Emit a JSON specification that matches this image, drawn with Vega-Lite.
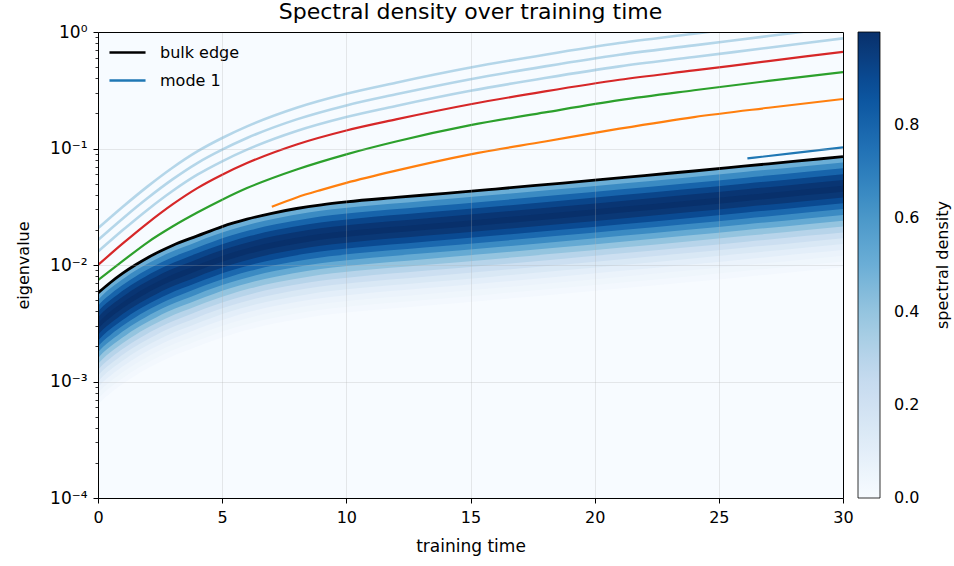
{
"$schema":"https://vega.github.io/schema/vega-lite/v6.json",
"width":745,"height":466,
"autosize":{"type":"none"},
"padding":{"left":98,"top":32,"right":111,"bottom":68},
"background":"white",
"title":{"text":"Spectral density over training time","fontSize":22,"font":"DejaVu Sans","fontWeight":"normal","color":"black","offset":-1},
"config":{"font":"DejaVu Sans","view":{"fill":"#f7fbff","stroke":null},
 "axis":{"labelFont":"DejaVu Sans","titleFont":"DejaVu Sans","labelColor":"black","titleColor":"black","titleFontWeight":"normal"},
 "legend":{"labelFont":"DejaVu Sans","titleFont":"DejaVu Sans","labelColor":"black","titleColor":"black"}},
"datasets":{
"levels":[{"j":1,"d":0.5},{"j":2,"d":0.65},{"j":3,"d":0.8},{"j":4,"d":0.92},{"j":5,"d":0.98},{"j":6,"d":1},{"j":7,"d":0.97},{"j":8,"d":0.9},{"j":9,"d":0.78},{"j":10,"d":0.65},{"j":11,"d":0.52},{"j":12,"d":0.4},{"j":13,"d":0.3},{"j":14,"d":0.22},{"j":15,"d":0.15},{"j":16,"d":0.1},{"j":17,"d":0.06},{"j":18,"d":0.04},{"j":19,"d":0.02},{"j":20,"d":0}],
"bins":[{"b":16,"e":0.00063096},{"b":17,"e":0.00070795},{"b":18,"e":0.00079433},{"b":19,"e":0.00089125},{"b":20,"e":0.001},{"b":21,"e":0.001122},{"b":22,"e":0.0012589},{"b":23,"e":0.0014125},{"b":24,"e":0.0015849},{"b":25,"e":0.0017783},{"b":26,"e":0.0019953},{"b":27,"e":0.0022387},{"b":28,"e":0.0025119},{"b":29,"e":0.0028184},{"b":30,"e":0.0031623},{"b":31,"e":0.0035481},{"b":32,"e":0.0039811},{"b":33,"e":0.0044668},{"b":34,"e":0.0050119},{"b":35,"e":0.0056234},{"b":36,"e":0.0063096},{"b":37,"e":0.0070795},{"b":38,"e":0.0079433},{"b":39,"e":0.0089125},{"b":40,"e":0.01},{"b":41,"e":0.01122},{"b":42,"e":0.012589},{"b":43,"e":0.014125},{"b":44,"e":0.015849},{"b":45,"e":0.017783},{"b":46,"e":0.019953},{"b":47,"e":0.022387},{"b":48,"e":0.025119},{"b":49,"e":0.028184},{"b":50,"e":0.031623},{"b":51,"e":0.035481},{"b":52,"e":0.039811},{"b":53,"e":0.044668},{"b":54,"e":0.050119},{"b":55,"e":0.056234},{"b":56,"e":0.063096},{"b":57,"e":0.070795},{"b":58,"e":0.079433},{"b":59,"e":0.089125}],
"band":[
{"j":1,"t":0,"b":35},{"j":1,"t":0.22,"b":36},{"j":1,"t":0.5,"b":37},{"j":1,"t":0.81,"b":38},{"j":1,"t":1.14,"b":39},{"j":1,"t":1.5,"b":40},{"j":1,"t":1.9,"b":41},{"j":1,"t":2.34,"b":42},{"j":1,"t":2.82,"b":43},{"j":1,"t":3.39,"b":44},{"j":1,"t":4,"b":45},{"j":1,"t":4.625,"b":46},{"j":1,"t":5.32,"b":47},{"j":1,"t":6.14,"b":48},{"j":1,"t":7.15,"b":49},{"j":1,"t":8.47,"b":50},{"j":1,"t":10.42,"b":51},{"j":1,"t":13.14,"b":52},{"j":1,"t":15.89,"b":53},{"j":1,"t":18.53,"b":54},{"j":1,"t":21.1,"b":55},{"j":1,"t":23.64,"b":56},{"j":1,"t":26.1,"b":57},{"j":1,"t":28.54,"b":58},{"j":1,"t":31,"b":59},
{"j":2,"t":0,"b":34},{"j":2,"t":0.22,"b":35},{"j":2,"t":0.5,"b":36},{"j":2,"t":0.81,"b":37},{"j":2,"t":1.14,"b":38},{"j":2,"t":1.5,"b":39},{"j":2,"t":1.9,"b":40},{"j":2,"t":2.34,"b":41},{"j":2,"t":2.82,"b":42},{"j":2,"t":3.39,"b":43},{"j":2,"t":4,"b":44},{"j":2,"t":4.625,"b":45},{"j":2,"t":5.32,"b":46},{"j":2,"t":6.14,"b":47},{"j":2,"t":7.15,"b":48},{"j":2,"t":8.47,"b":49},{"j":2,"t":10.42,"b":50},{"j":2,"t":13.14,"b":51},{"j":2,"t":15.89,"b":52},{"j":2,"t":18.53,"b":53},{"j":2,"t":21.1,"b":54},{"j":2,"t":23.64,"b":55},{"j":2,"t":26.1,"b":56},{"j":2,"t":28.54,"b":57},{"j":2,"t":31,"b":58},
{"j":3,"t":0,"b":33},{"j":3,"t":0.22,"b":34},{"j":3,"t":0.5,"b":35},{"j":3,"t":0.81,"b":36},{"j":3,"t":1.14,"b":37},{"j":3,"t":1.5,"b":38},{"j":3,"t":1.9,"b":39},{"j":3,"t":2.34,"b":40},{"j":3,"t":2.82,"b":41},{"j":3,"t":3.39,"b":42},{"j":3,"t":4,"b":43},{"j":3,"t":4.625,"b":44},{"j":3,"t":5.32,"b":45},{"j":3,"t":6.14,"b":46},{"j":3,"t":7.15,"b":47},{"j":3,"t":8.47,"b":48},{"j":3,"t":10.42,"b":49},{"j":3,"t":13.14,"b":50},{"j":3,"t":15.89,"b":51},{"j":3,"t":18.53,"b":52},{"j":3,"t":21.1,"b":53},{"j":3,"t":23.64,"b":54},{"j":3,"t":26.1,"b":55},{"j":3,"t":28.54,"b":56},{"j":3,"t":31,"b":57},
{"j":4,"t":0,"b":32},{"j":4,"t":0.22,"b":33},{"j":4,"t":0.5,"b":34},{"j":4,"t":0.81,"b":35},{"j":4,"t":1.14,"b":36},{"j":4,"t":1.5,"b":37},{"j":4,"t":1.9,"b":38},{"j":4,"t":2.34,"b":39},{"j":4,"t":2.82,"b":40},{"j":4,"t":3.39,"b":41},{"j":4,"t":4,"b":42},{"j":4,"t":4.625,"b":43},{"j":4,"t":5.32,"b":44},{"j":4,"t":6.14,"b":45},{"j":4,"t":7.15,"b":46},{"j":4,"t":8.47,"b":47},{"j":4,"t":10.42,"b":48},{"j":4,"t":13.14,"b":49},{"j":4,"t":15.89,"b":50},{"j":4,"t":18.53,"b":51},{"j":4,"t":21.1,"b":52},{"j":4,"t":23.64,"b":53},{"j":4,"t":26.1,"b":54},{"j":4,"t":28.54,"b":55},{"j":4,"t":31,"b":56},
{"j":5,"t":0,"b":31},{"j":5,"t":0.22,"b":32},{"j":5,"t":0.5,"b":33},{"j":5,"t":0.81,"b":34},{"j":5,"t":1.14,"b":35},{"j":5,"t":1.5,"b":36},{"j":5,"t":1.9,"b":37},{"j":5,"t":2.34,"b":38},{"j":5,"t":2.82,"b":39},{"j":5,"t":3.39,"b":40},{"j":5,"t":4,"b":41},{"j":5,"t":4.625,"b":42},{"j":5,"t":5.32,"b":43},{"j":5,"t":6.14,"b":44},{"j":5,"t":7.15,"b":45},{"j":5,"t":8.47,"b":46},{"j":5,"t":10.42,"b":47},{"j":5,"t":13.14,"b":48},{"j":5,"t":15.89,"b":49},{"j":5,"t":18.53,"b":50},{"j":5,"t":21.1,"b":51},{"j":5,"t":23.64,"b":52},{"j":5,"t":26.1,"b":53},{"j":5,"t":28.54,"b":54},{"j":5,"t":31,"b":55},
{"j":6,"t":0,"b":30},{"j":6,"t":0.22,"b":31},{"j":6,"t":0.5,"b":32},{"j":6,"t":0.81,"b":33},{"j":6,"t":1.14,"b":34},{"j":6,"t":1.5,"b":35},{"j":6,"t":1.9,"b":36},{"j":6,"t":2.34,"b":37},{"j":6,"t":2.82,"b":38},{"j":6,"t":3.39,"b":39},{"j":6,"t":4,"b":40},{"j":6,"t":4.625,"b":41},{"j":6,"t":5.32,"b":42},{"j":6,"t":6.14,"b":43},{"j":6,"t":7.15,"b":44},{"j":6,"t":8.47,"b":45},{"j":6,"t":10.42,"b":46},{"j":6,"t":13.14,"b":47},{"j":6,"t":15.89,"b":48},{"j":6,"t":18.53,"b":49},{"j":6,"t":21.1,"b":50},{"j":6,"t":23.64,"b":51},{"j":6,"t":26.1,"b":52},{"j":6,"t":28.54,"b":53},{"j":6,"t":31,"b":54},
{"j":7,"t":0,"b":29},{"j":7,"t":0.22,"b":30},{"j":7,"t":0.5,"b":31},{"j":7,"t":0.81,"b":32},{"j":7,"t":1.14,"b":33},{"j":7,"t":1.5,"b":34},{"j":7,"t":1.9,"b":35},{"j":7,"t":2.34,"b":36},{"j":7,"t":2.82,"b":37},{"j":7,"t":3.39,"b":38},{"j":7,"t":4,"b":39},{"j":7,"t":4.625,"b":40},{"j":7,"t":5.32,"b":41},{"j":7,"t":6.14,"b":42},{"j":7,"t":7.15,"b":43},{"j":7,"t":8.47,"b":44},{"j":7,"t":10.42,"b":45},{"j":7,"t":13.14,"b":46},{"j":7,"t":15.89,"b":47},{"j":7,"t":18.53,"b":48},{"j":7,"t":21.1,"b":49},{"j":7,"t":23.64,"b":50},{"j":7,"t":26.1,"b":51},{"j":7,"t":28.54,"b":52},{"j":7,"t":31,"b":53},
{"j":8,"t":0,"b":28},{"j":8,"t":0.22,"b":29},{"j":8,"t":0.5,"b":30},{"j":8,"t":0.81,"b":31},{"j":8,"t":1.14,"b":32},{"j":8,"t":1.5,"b":33},{"j":8,"t":1.9,"b":34},{"j":8,"t":2.34,"b":35},{"j":8,"t":2.82,"b":36},{"j":8,"t":3.39,"b":37},{"j":8,"t":4,"b":38},{"j":8,"t":4.625,"b":39},{"j":8,"t":5.32,"b":40},{"j":8,"t":6.14,"b":41},{"j":8,"t":7.15,"b":42},{"j":8,"t":8.47,"b":43},{"j":8,"t":10.42,"b":44},{"j":8,"t":13.14,"b":45},{"j":8,"t":15.89,"b":46},{"j":8,"t":18.53,"b":47},{"j":8,"t":21.1,"b":48},{"j":8,"t":23.64,"b":49},{"j":8,"t":26.1,"b":50},{"j":8,"t":28.54,"b":51},{"j":8,"t":31,"b":52},
{"j":9,"t":0,"b":27},{"j":9,"t":0.22,"b":28},{"j":9,"t":0.5,"b":29},{"j":9,"t":0.81,"b":30},{"j":9,"t":1.14,"b":31},{"j":9,"t":1.5,"b":32},{"j":9,"t":1.9,"b":33},{"j":9,"t":2.34,"b":34},{"j":9,"t":2.82,"b":35},{"j":9,"t":3.39,"b":36},{"j":9,"t":4,"b":37},{"j":9,"t":4.625,"b":38},{"j":9,"t":5.32,"b":39},{"j":9,"t":6.14,"b":40},{"j":9,"t":7.15,"b":41},{"j":9,"t":8.47,"b":42},{"j":9,"t":10.42,"b":43},{"j":9,"t":13.14,"b":44},{"j":9,"t":15.89,"b":45},{"j":9,"t":18.53,"b":46},{"j":9,"t":21.1,"b":47},{"j":9,"t":23.64,"b":48},{"j":9,"t":26.1,"b":49},{"j":9,"t":28.54,"b":50},{"j":9,"t":31,"b":51},
{"j":10,"t":0,"b":26},{"j":10,"t":0.22,"b":27},{"j":10,"t":0.5,"b":28},{"j":10,"t":0.81,"b":29},{"j":10,"t":1.14,"b":30},{"j":10,"t":1.5,"b":31},{"j":10,"t":1.9,"b":32},{"j":10,"t":2.34,"b":33},{"j":10,"t":2.82,"b":34},{"j":10,"t":3.39,"b":35},{"j":10,"t":4,"b":36},{"j":10,"t":4.625,"b":37},{"j":10,"t":5.32,"b":38},{"j":10,"t":6.14,"b":39},{"j":10,"t":7.15,"b":40},{"j":10,"t":8.47,"b":41},{"j":10,"t":10.42,"b":42},{"j":10,"t":13.14,"b":43},{"j":10,"t":15.89,"b":44},{"j":10,"t":18.53,"b":45},{"j":10,"t":21.1,"b":46},{"j":10,"t":23.64,"b":47},{"j":10,"t":26.1,"b":48},{"j":10,"t":28.54,"b":49},{"j":10,"t":31,"b":50},
{"j":11,"t":0,"b":25},{"j":11,"t":0.22,"b":26},{"j":11,"t":0.5,"b":27},{"j":11,"t":0.81,"b":28},{"j":11,"t":1.14,"b":29},{"j":11,"t":1.5,"b":30},{"j":11,"t":1.9,"b":31},{"j":11,"t":2.34,"b":32},{"j":11,"t":2.82,"b":33},{"j":11,"t":3.39,"b":34},{"j":11,"t":4,"b":35},{"j":11,"t":4.625,"b":36},{"j":11,"t":5.32,"b":37},{"j":11,"t":6.14,"b":38},{"j":11,"t":7.15,"b":39},{"j":11,"t":8.47,"b":40},{"j":11,"t":10.42,"b":41},{"j":11,"t":13.14,"b":42},{"j":11,"t":15.89,"b":43},{"j":11,"t":18.53,"b":44},{"j":11,"t":21.1,"b":45},{"j":11,"t":23.64,"b":46},{"j":11,"t":26.1,"b":47},{"j":11,"t":28.54,"b":48},{"j":11,"t":31,"b":49},
{"j":12,"t":0,"b":24},{"j":12,"t":0.22,"b":25},{"j":12,"t":0.5,"b":26},{"j":12,"t":0.81,"b":27},{"j":12,"t":1.14,"b":28},{"j":12,"t":1.5,"b":29},{"j":12,"t":1.9,"b":30},{"j":12,"t":2.34,"b":31},{"j":12,"t":2.82,"b":32},{"j":12,"t":3.39,"b":33},{"j":12,"t":4,"b":34},{"j":12,"t":4.625,"b":35},{"j":12,"t":5.32,"b":36},{"j":12,"t":6.14,"b":37},{"j":12,"t":7.15,"b":38},{"j":12,"t":8.47,"b":39},{"j":12,"t":10.42,"b":40},{"j":12,"t":13.14,"b":41},{"j":12,"t":15.89,"b":42},{"j":12,"t":18.53,"b":43},{"j":12,"t":21.1,"b":44},{"j":12,"t":23.64,"b":45},{"j":12,"t":26.1,"b":46},{"j":12,"t":28.54,"b":47},{"j":12,"t":31,"b":48},
{"j":13,"t":0,"b":23},{"j":13,"t":0.22,"b":24},{"j":13,"t":0.5,"b":25},{"j":13,"t":0.81,"b":26},{"j":13,"t":1.14,"b":27},{"j":13,"t":1.5,"b":28},{"j":13,"t":1.9,"b":29},{"j":13,"t":2.34,"b":30},{"j":13,"t":2.82,"b":31},{"j":13,"t":3.39,"b":32},{"j":13,"t":4,"b":33},{"j":13,"t":4.625,"b":34},{"j":13,"t":5.32,"b":35},{"j":13,"t":6.14,"b":36},{"j":13,"t":7.15,"b":37},{"j":13,"t":8.47,"b":38},{"j":13,"t":10.42,"b":39},{"j":13,"t":13.14,"b":40},{"j":13,"t":15.89,"b":41},{"j":13,"t":18.53,"b":42},{"j":13,"t":21.1,"b":43},{"j":13,"t":23.64,"b":44},{"j":13,"t":26.1,"b":45},{"j":13,"t":28.54,"b":46},{"j":13,"t":31,"b":47},
{"j":14,"t":0,"b":22},{"j":14,"t":0.22,"b":23},{"j":14,"t":0.5,"b":24},{"j":14,"t":0.81,"b":25},{"j":14,"t":1.14,"b":26},{"j":14,"t":1.5,"b":27},{"j":14,"t":1.9,"b":28},{"j":14,"t":2.34,"b":29},{"j":14,"t":2.82,"b":30},{"j":14,"t":3.39,"b":31},{"j":14,"t":4,"b":32},{"j":14,"t":4.625,"b":33},{"j":14,"t":5.32,"b":34},{"j":14,"t":6.14,"b":35},{"j":14,"t":7.15,"b":36},{"j":14,"t":8.47,"b":37},{"j":14,"t":10.42,"b":38},{"j":14,"t":13.14,"b":39},{"j":14,"t":15.89,"b":40},{"j":14,"t":18.53,"b":41},{"j":14,"t":21.1,"b":42},{"j":14,"t":23.64,"b":43},{"j":14,"t":26.1,"b":44},{"j":14,"t":28.54,"b":45},{"j":14,"t":31,"b":46},
{"j":15,"t":0,"b":21},{"j":15,"t":0.22,"b":22},{"j":15,"t":0.5,"b":23},{"j":15,"t":0.81,"b":24},{"j":15,"t":1.14,"b":25},{"j":15,"t":1.5,"b":26},{"j":15,"t":1.9,"b":27},{"j":15,"t":2.34,"b":28},{"j":15,"t":2.82,"b":29},{"j":15,"t":3.39,"b":30},{"j":15,"t":4,"b":31},{"j":15,"t":4.625,"b":32},{"j":15,"t":5.32,"b":33},{"j":15,"t":6.14,"b":34},{"j":15,"t":7.15,"b":35},{"j":15,"t":8.47,"b":36},{"j":15,"t":10.42,"b":37},{"j":15,"t":13.14,"b":38},{"j":15,"t":15.89,"b":39},{"j":15,"t":18.53,"b":40},{"j":15,"t":21.1,"b":41},{"j":15,"t":23.64,"b":42},{"j":15,"t":26.1,"b":43},{"j":15,"t":28.54,"b":44},{"j":15,"t":31,"b":45},
{"j":16,"t":0,"b":20},{"j":16,"t":0.22,"b":21},{"j":16,"t":0.5,"b":22},{"j":16,"t":0.81,"b":23},{"j":16,"t":1.14,"b":24},{"j":16,"t":1.5,"b":25},{"j":16,"t":1.9,"b":26},{"j":16,"t":2.34,"b":27},{"j":16,"t":2.82,"b":28},{"j":16,"t":3.39,"b":29},{"j":16,"t":4,"b":30},{"j":16,"t":4.625,"b":31},{"j":16,"t":5.32,"b":32},{"j":16,"t":6.14,"b":33},{"j":16,"t":7.15,"b":34},{"j":16,"t":8.47,"b":35},{"j":16,"t":10.42,"b":36},{"j":16,"t":13.14,"b":37},{"j":16,"t":15.89,"b":38},{"j":16,"t":18.53,"b":39},{"j":16,"t":21.1,"b":40},{"j":16,"t":23.64,"b":41},{"j":16,"t":26.1,"b":42},{"j":16,"t":28.54,"b":43},{"j":16,"t":31,"b":44},
{"j":17,"t":0,"b":19},{"j":17,"t":0.22,"b":20},{"j":17,"t":0.5,"b":21},{"j":17,"t":0.81,"b":22},{"j":17,"t":1.14,"b":23},{"j":17,"t":1.5,"b":24},{"j":17,"t":1.9,"b":25},{"j":17,"t":2.34,"b":26},{"j":17,"t":2.82,"b":27},{"j":17,"t":3.39,"b":28},{"j":17,"t":4,"b":29},{"j":17,"t":4.625,"b":30},{"j":17,"t":5.32,"b":31},{"j":17,"t":6.14,"b":32},{"j":17,"t":7.15,"b":33},{"j":17,"t":8.47,"b":34},{"j":17,"t":10.42,"b":35},{"j":17,"t":13.14,"b":36},{"j":17,"t":15.89,"b":37},{"j":17,"t":18.53,"b":38},{"j":17,"t":21.1,"b":39},{"j":17,"t":23.64,"b":40},{"j":17,"t":26.1,"b":41},{"j":17,"t":28.54,"b":42},{"j":17,"t":31,"b":43},
{"j":18,"t":0,"b":18},{"j":18,"t":0.22,"b":19},{"j":18,"t":0.5,"b":20},{"j":18,"t":0.81,"b":21},{"j":18,"t":1.14,"b":22},{"j":18,"t":1.5,"b":23},{"j":18,"t":1.9,"b":24},{"j":18,"t":2.34,"b":25},{"j":18,"t":2.82,"b":26},{"j":18,"t":3.39,"b":27},{"j":18,"t":4,"b":28},{"j":18,"t":4.625,"b":29},{"j":18,"t":5.32,"b":30},{"j":18,"t":6.14,"b":31},{"j":18,"t":7.15,"b":32},{"j":18,"t":8.47,"b":33},{"j":18,"t":10.42,"b":34},{"j":18,"t":13.14,"b":35},{"j":18,"t":15.89,"b":36},{"j":18,"t":18.53,"b":37},{"j":18,"t":21.1,"b":38},{"j":18,"t":23.64,"b":39},{"j":18,"t":26.1,"b":40},{"j":18,"t":28.54,"b":41},{"j":18,"t":31,"b":42},
{"j":19,"t":0,"b":17},{"j":19,"t":0.22,"b":18},{"j":19,"t":0.5,"b":19},{"j":19,"t":0.81,"b":20},{"j":19,"t":1.14,"b":21},{"j":19,"t":1.5,"b":22},{"j":19,"t":1.9,"b":23},{"j":19,"t":2.34,"b":24},{"j":19,"t":2.82,"b":25},{"j":19,"t":3.39,"b":26},{"j":19,"t":4,"b":27},{"j":19,"t":4.625,"b":28},{"j":19,"t":5.32,"b":29},{"j":19,"t":6.14,"b":30},{"j":19,"t":7.15,"b":31},{"j":19,"t":8.47,"b":32},{"j":19,"t":10.42,"b":33},{"j":19,"t":13.14,"b":34},{"j":19,"t":15.89,"b":35},{"j":19,"t":18.53,"b":36},{"j":19,"t":21.1,"b":37},{"j":19,"t":23.64,"b":38},{"j":19,"t":26.1,"b":39},{"j":19,"t":28.54,"b":40},{"j":19,"t":31,"b":41},
{"j":20,"t":0,"b":16},{"j":20,"t":0.22,"b":17},{"j":20,"t":0.5,"b":18},{"j":20,"t":0.81,"b":19},{"j":20,"t":1.14,"b":20},{"j":20,"t":1.5,"b":21},{"j":20,"t":1.9,"b":22},{"j":20,"t":2.34,"b":23},{"j":20,"t":2.82,"b":24},{"j":20,"t":3.39,"b":25},{"j":20,"t":4,"b":26},{"j":20,"t":4.625,"b":27},{"j":20,"t":5.32,"b":28},{"j":20,"t":6.14,"b":29},{"j":20,"t":7.15,"b":30},{"j":20,"t":8.47,"b":31},{"j":20,"t":10.42,"b":32},{"j":20,"t":13.14,"b":33},{"j":20,"t":15.89,"b":34},{"j":20,"t":18.53,"b":35},{"j":20,"t":21.1,"b":36},{"j":20,"t":23.64,"b":37},{"j":20,"t":26.1,"b":38},{"j":20,"t":28.54,"b":39},{"j":20,"t":31,"b":40}
],
"faint":[
{"s":"f1","t":0,"e":0.013032},{"s":"f1","t":1,"e":0.019953},{"s":"f1","t":2,"e":0.029854},{"s":"f1","t":3,"e":0.043152},{"s":"f1","t":4,"e":0.059566},{"s":"f1","t":5,"e":0.077625},{"s":"f1","t":6,"e":0.097724},{"s":"f1","t":8,"e":0.141254},{"s":"f1","t":10,"e":0.186209},{"s":"f1","t":12,"e":0.231739},{"s":"f1","t":15,"e":0.312608},{"s":"f1","t":18,"e":0.402717},{"s":"f1","t":21,"e":0.506991},{"s":"f1","t":24,"e":0.609537},{"s":"f1","t":27,"e":0.732825},{"s":"f1","t":30,"e":0.881049},
{"s":"f2","t":0,"e":0.016406},{"s":"f2","t":1,"e":0.025119},{"s":"f2","t":2,"e":0.037584},{"s":"f2","t":3,"e":0.054325},{"s":"f2","t":4,"e":0.074989},{"s":"f2","t":5,"e":0.097724},{"s":"f2","t":6,"e":0.123027},{"s":"f2","t":8,"e":0.177828},{"s":"f2","t":10,"e":0.234423},{"s":"f2","t":12,"e":0.291743},{"s":"f2","t":15,"e":0.39355},{"s":"f2","t":18,"e":0.506991},{"s":"f2","t":21,"e":0.638263},{"s":"f2","t":24,"e":0.767361},{"s":"f2","t":27,"e":0.922571},{"s":"f2","t":30,"e":1.109175},
{"s":"f3","t":0,"e":0.020654},{"s":"f3","t":1,"e":0.031623},{"s":"f3","t":2,"e":0.047315},{"s":"f3","t":3,"e":0.068391},{"s":"f3","t":4,"e":0.094406},{"s":"f3","t":5,"e":0.123027},{"s":"f3","t":6,"e":0.154882},{"s":"f3","t":8,"e":0.223872},{"s":"f3","t":10,"e":0.295121},{"s":"f3","t":12,"e":0.367282},{"s":"f3","t":15,"e":0.49545},{"s":"f3","t":18,"e":0.638263},{"s":"f3","t":21,"e":0.803526},{"s":"f3","t":24,"e":0.966051},{"s":"f3","t":27,"e":1.161449},{"s":"f3","t":30,"e":1.396368}
],
"lines":[
{"s":"m4","t":0,"e":0.01},{"s":"m4","t":1,"e":0.015311},{"s":"m4","t":2,"e":0.022909},{"s":"m4","t":3,"e":0.033113},{"s":"m4","t":4,"e":0.045709},{"s":"m4","t":5,"e":0.059566},{"s":"m4","t":6,"e":0.074989},{"s":"m4","t":8,"e":0.108393},{"s":"m4","t":10,"e":0.142889},{"s":"m4","t":12,"e":0.177828},{"s":"m4","t":15,"e":0.239883},{"s":"m4","t":18,"e":0.30903},{"s":"m4","t":21,"e":0.389045},{"s":"m4","t":24,"e":0.467735},{"s":"m4","t":27,"e":0.562341},{"s":"m4","t":30,"e":0.676083},
{"s":"m3","t":0,"e":0.007413},{"s":"m3","t":1,"e":0.010839},{"s":"m3","t":2,"e":0.015668},{"s":"m3","t":3,"e":0.02138},{"s":"m3","t":4,"e":0.028184},{"s":"m3","t":5,"e":0.036308},{"s":"m3","t":6,"e":0.045709},{"s":"m3","t":8,"e":0.066069},{"s":"m3","t":10,"e":0.089125},{"s":"m3","t":12,"e":0.11482},{"s":"m3","t":15,"e":0.15849},{"s":"m3","t":18,"e":0.20417},{"s":"m3","t":21,"e":0.26002},{"s":"m3","t":24,"e":0.31623},{"s":"m3","t":27,"e":0.38019},{"s":"m3","t":30,"e":0.45186},
{"s":"m2","t":7,"e":0.031623},{"s":"m2","t":8,"e":0.038019},{"s":"m2","t":9,"e":0.044157},{"s":"m2","t":10,"e":0.050699},{"s":"m2","t":12,"e":0.064565},{"s":"m2","t":15,"e":0.089125},{"s":"m2","t":18,"e":0.11482},{"s":"m2","t":21,"e":0.14791},{"s":"m2","t":24,"e":0.18621},{"s":"m2","t":27,"e":0.22387},{"s":"m2","t":30,"e":0.26607},
{"s":"mode 1","t":26.15,"e":0.08222},{"s":"mode 1","t":28,"e":0.0912},{"s":"mode 1","t":30,"e":0.10233},
{"s":"bulk edge","t":0,"e":0.0057544},{"s":"bulk edge","t":0.5,"e":0.0070795},{"s":"bulk edge","t":1,"e":0.0085114},{"s":"bulk edge","t":1.5,"e":0.01},{"s":"bulk edge","t":2,"e":0.011561},{"s":"bulk edge","t":2.5,"e":0.013122},{"s":"bulk edge","t":3,"e":0.014723},{"s":"bulk edge","t":4,"e":0.017783},{"s":"bulk edge","t":5,"e":0.02138},{"s":"bulk edge","t":6,"e":0.024717},{"s":"bulk edge","t":7,"e":0.027797},{"s":"bulk edge","t":8,"e":0.030549},{"s":"bulk edge","t":9,"e":0.032885},{"s":"bulk edge","t":10,"e":0.034834},{"s":"bulk edge","t":12,"e":0.038019},{"s":"bulk edge","t":14,"e":0.04121},{"s":"bulk edge","t":16,"e":0.044875},{"s":"bulk edge","t":18,"e":0.048978},{"s":"bulk edge","t":20,"e":0.053456},{"s":"bulk edge","t":22,"e":0.058614},{"s":"bulk edge","t":24,"e":0.064121},{"s":"bulk edge","t":26,"e":0.070469},{"s":"bulk edge","t":28,"e":0.077446},{"s":"bulk edge","t":30,"e":0.085114}
]
},
"layer":[
{
"data":{"name":"band"},
"transform":[
 {"lookup":"b","from":{"data":{"name":"bins"},"key":"b","fields":["e"]}},
 {"lookup":"j","from":{"data":{"name":"levels"},"key":"j","fields":["d"]}}
],
"mark":{"type":"area","clip":true,"interpolate":"monotone"},
"encoding":{
 "x":{"field":"t","type":"quantitative","scale":{"domain":[0,30],"nice":false,"zero":false},
  "axis":{"orient":"bottom","values":[0,5,10,15,20,25,30],"title":"training time","labelFontSize":16,"titleFontSize":17,"labelFlush":false,"tickSize":5,"tickColor":"black","domainColor":"black","labelPadding":6,"titlePadding":13,"grid":true,"gridColor":"#b0b0b0","gridOpacity":0.35,"gridWidth":0.8,"zindex":1}},
 "y":{"field":"e","type":"quantitative","stack":null,"scale":{"type":"log","domain":[0.0001,1],"nice":false},
  "axis":{"orient":"left","values":[0.0001,0.001,0.01,0.1,1],"labelExpr":"datum.value >= 0.5 ? '10⁰' : datum.value >= 0.05 ? '10⁻¹' : datum.value >= 0.005 ? '10⁻²' : datum.value >= 0.0005 ? '10⁻³' : '10⁻⁴'","title":"eigenvalue","labelFontSize":17,"titleFontSize":16,"tickSize":5,"tickColor":"black","domainColor":"black","labelPadding":6,"titlePadding":18,"grid":true,"gridColor":"#b0b0b0","gridOpacity":0.35,"gridWidth":0.8,"zindex":1}},
 "y2":{"datum":0.0001},
 "detail":{"field":"j"},
 "fill":{"field":"d","type":"quantitative","scale":{"domain":[0,0.125,0.25,0.375,0.5,0.625,0.75,0.875,1],"range":["#f7fbff","#deebf7","#c6dbef","#9ecae1","#6baed6","#4292c6","#2171b5","#08519c","#08306b"]},
  "legend":{"orient":"right","offset":15,"direction":"vertical","gradientLength":466,"gradientThickness":22,"gradientStrokeColor":"black","gradientStrokeWidth":0.8,"values":[0,0.2,0.4,0.6,0.8],"format":".1f","labelFontSize":16,"labelOffset":14,"title":"spectral density","titleFontSize":16,"titleFontWeight":"normal","titleOrient":"right","titleAnchor":"middle","titlePadding":8,
   "encode":{"title":{"update":{"angle":{"value":270},"dy":{"value":24}}},"labels":{"update":{"baseline":{"value":"middle"}}}}}}
}
},
{
"data":{"name":"faint"},
"mark":{"type":"line","clip":true,"stroke":"#9ecae1","strokeWidth":2.6,"opacity":0.75,"interpolate":"monotone"},
"encoding":{
 "x":{"field":"t","type":"quantitative","scale":{"domain":[0,30],"nice":false,"zero":false},"axis":{"orient":"top","labels":false,"ticks":false,"grid":false,"title":null,"domainColor":"black","zindex":1}},
 "y":{"field":"e","type":"quantitative","scale":{"type":"log","domain":[0.0001,1],"nice":false},"axis":{"orient":"right","labels":false,"ticks":false,"grid":false,"title":null,"domainColor":"black","zindex":1}},
 "detail":{"field":"s"}
}
},
{
"data":{"name":"lines"},
"mark":{"type":"line","clip":true,"interpolate":"monotone"},
"encoding":{
 "x":{"field":"t","type":"quantitative","scale":{"domain":[0,30],"nice":false,"zero":false},"axis":null},
 "y":{"field":"e","type":"quantitative","scale":{"type":"log","domain":[0.0001,1],"nice":false},"axis":{"orient":"left","values":[0.0002,0.0003,0.0004,0.0005,0.0006,0.0007,0.0008,0.0009,0.002,0.003,0.004,0.005,0.006,0.007,0.008,0.009,0.02,0.03,0.04,0.05,0.06,0.07,0.08,0.09,0.2,0.3,0.4,0.5,0.6,0.7,0.8,0.9],"labels":false,"domain":false,"grid":false,"title":null,"tickSize":3,"tickColor":"black","tickWidth":0.8}},
 "stroke":{"field":"s","type":"nominal","scale":{"domain":["bulk edge","mode 1","m2","m3","m4"],"range":["#000000","#1f77b4","#ff7f0e","#2ca02c","#d62728"]},
  "legend":{"orient":"none","legendX":10,"legendY":1,"values":["bulk edge","mode 1"],"title":null,"symbolType":"stroke","symbolStrokeWidth":2.5,"symbolSize":1300,"labelFontSize":16,"rowPadding":-3,"labelOffset":13}},
 "strokeWidth":{"condition":{"test":"datum.s == 'bulk edge'","value":2.8},"value":2.2}
}
}
],
"resolve":{"axis":{"x":"independent","y":"independent"}}
}
